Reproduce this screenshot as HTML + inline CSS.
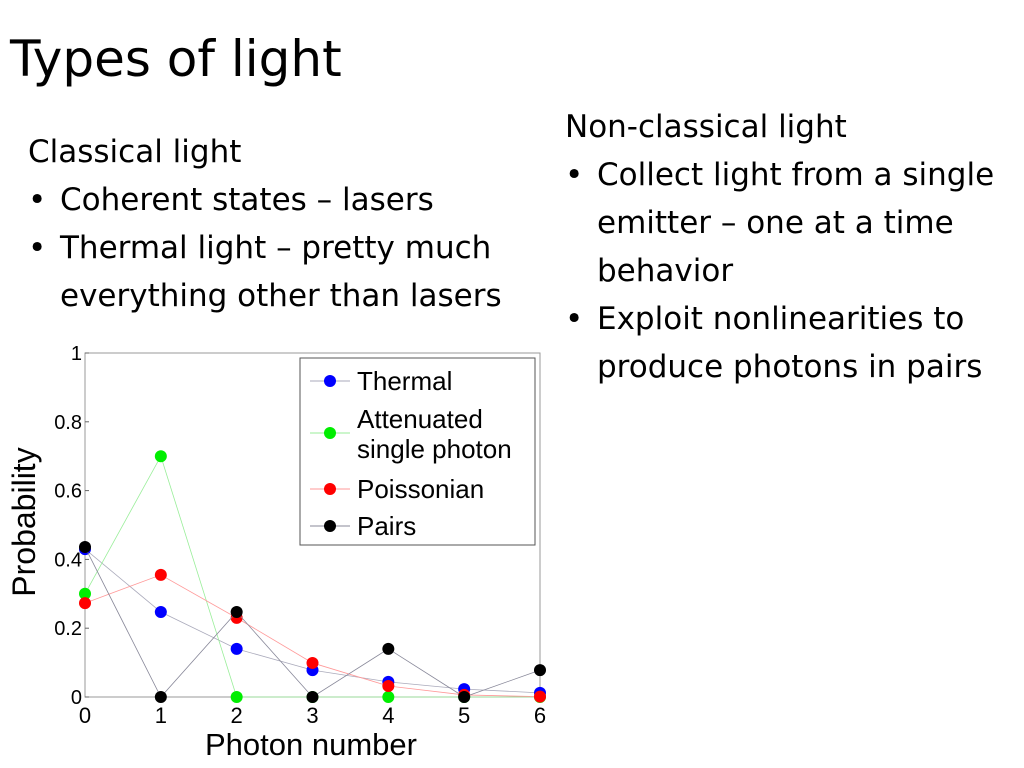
<!DOCTYPE html>
<html><head><meta charset="utf-8"><style>
body{margin:0;width:1024px;height:768px;background:#fff;overflow:hidden;position:relative;font-family:"Liberation Sans",sans-serif}
.t{position:absolute;font-family:"DejaVu Sans","Liberation Sans",sans-serif;color:#000;white-space:nowrap}
.b{display:inline-block;width:32px}
</style></head><body>
<div class="t" style="left:10px;top:30px;font-size:50px">Types of light</div>
<div class="t" style="left:28px;top:128px;font-size:31px;line-height:48px">Classical light<br><span class="b">•</span>Coherent states – lasers<br><span class="b">•</span>Thermal light – pretty much<br><span class="b"></span>everything other than lasers</div>
<div class="t" style="left:565px;top:103px;font-size:31px;line-height:48px">Non-classical light<br><span class="b">•</span>Collect light from a single<br><span class="b"></span>emitter – one at a time<br><span class="b"></span>behavior<br><span class="b">•</span>Exploit nonlinearities to<br><span class="b"></span>produce photons in pairs</div>
<svg id="chart" width="1024" height="768" style="position:absolute;left:0;top:0" font-family="Liberation Sans, sans-serif"></svg>
<script>
const categories=[0,1,2,3,4,5,6];
const yTicks=[0,0.2,0.4,0.6,0.8,1];
const thermal=[0.43,0.247,0.14,0.078,0.044,0.023,0.012];
const attenuated=[0.30,0.70,0,0,0,0,0];
const poissonian=[0.273,0.355,0.23,0.099,0.032,0.006,0.001];
const pairs=[0.436,0,0.247,0,0.14,0,0.078];
const seriesNames=["Thermal","Attenuated|single photon","Poissonian","Pairs"];
const svg=document.getElementById('chart');const NS='http://www.w3.org/2000/svg';
const X0=85,X1=540,Y0=697,Y1=353;
const xs=v=>X0+(X1-X0)*v/6, ys=v=>Y0-(Y0-Y1)*v;
function mk(t,a,p){const e=document.createElementNS(NS,t);for(const k in a)e.setAttribute(k,a[k]);(p||svg).appendChild(e);return e;}
const frame=mk('rect',{x:X0,y:Y1,width:X1-X0,height:Y0-Y1,fill:'none',stroke:'#999','stroke-width':1});


yTicks.forEach(v=>{const t=mk('text',{x:X0-3,y:ys(v)+7,'font-size':20,'text-anchor':'end'});t.textContent=v;


mk('line',{x1:X0,x2:X0+4,y1:ys(v),y2:ys(v),stroke:'#666'});});
categories.forEach(v=>{const t=mk('text',{x:xs(v),y:Y0+26,'font-size':22,'text-anchor':'middle'});t.textContent=v;

});
const xt=mk('text',{x:311,y:755,'font-size':31,'text-anchor':'middle'});xt.textContent='Photon number';


const yt=mk('text',{x:0,y:0,'font-size':32,'text-anchor':'middle',transform:'translate(35,522) rotate(-90)'});yt.textContent='Probability';


const series=[[thermal,'#0000ff','#aab'],[attenuated,'#00ee00','#9e9'],[poissonian,'#ff0000','#f99'],[pairs,'#000','#889']];
series.forEach(([d,c,lc],i)=>{
 const pl=mk('polyline',{points:d.map((v,j)=>xs(categories[j])+','+ys(v)).join(' '),fill:'none',stroke:lc,'stroke-width':0.8});
 
 
 d.forEach((v,j)=>{const c1=mk('circle',{cx:xs(categories[j]),cy:ys(v),r:6,fill:c});
 
 });
});
const lg=mk('rect',{x:300,y:358,width:235,height:187,fill:'#fff',stroke:'#555','stroke-width':1});


const ly=[381,433,489,526];
seriesNames.forEach((n,i)=>{
 mk('line',{x1:310,x2:350,y1:ly[i],y2:ly[i],stroke:series[i][2]});
 mk('circle',{cx:330,cy:ly[i],r:6,fill:series[i][1]});
 const parts=n.split('|');
 parts.forEach((p,k)=>{const t=mk('text',{x:357,y:(parts.length>1?ly[i]-5+k*30:ly[i]+9),'font-size':26});t.textContent=p;
 
 });
});
</script>
</body></html>
